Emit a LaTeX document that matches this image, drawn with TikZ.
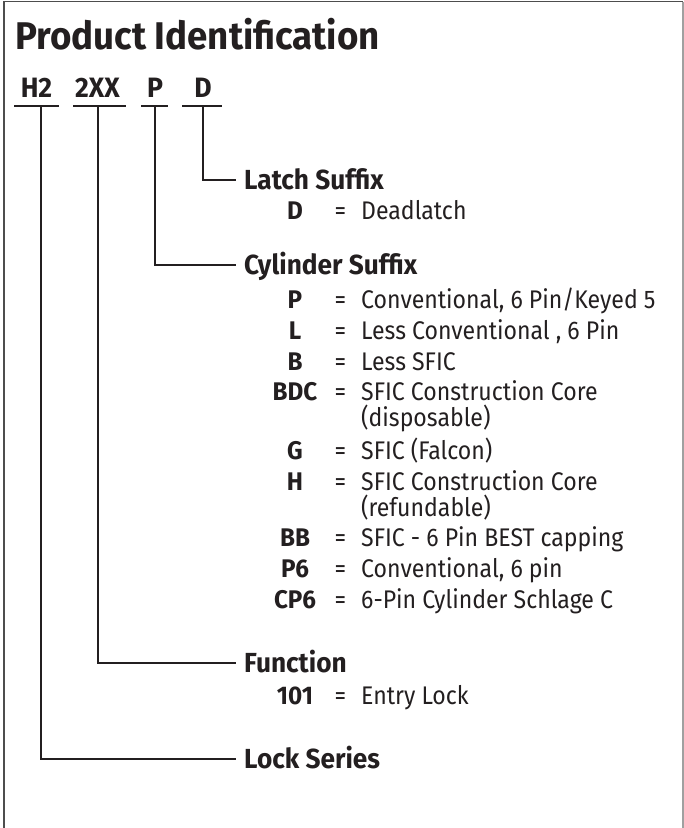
\documentclass[tikz,border=0pt]{standalone}
\usepackage{fontspec}
\setmainfont{Fira Sans}[FakeStretch=0.905, BoldFeatures={FakeStretch=0.95}]
\usetikzlibrary{positioning}
\definecolor{idInk}{HTML}{231F20}
\definecolor{idFrame}{HTML}{4D4D4D}
\definecolor{idFrameLt}{HTML}{A0A0A0}
\tikzset{
  ttl/.style={anchor=base west, inner sep=0pt, text=idInk,
              font=\bfseries\fontsize{38.6}{40}\selectfont},
  codeTag/.style={anchor=base, inner sep=0pt, text=idInk,
                  font=\bfseries\fontsize{28}{30}\selectfont},
  hdr/.style={anchor=west, inner xsep=8pt, inner ysep=0pt, text height=19pt,
              text depth=0pt, text=idInk, font=\bfseries\fontsize{27.6}{30}\selectfont},
  itemCode/.style={anchor=base, inner sep=0pt, text=idInk,
                   font=\bfseries\fontsize{25.5}{30}\selectfont},
  itemEq/.style={anchor=base, inner sep=0pt, text=idInk,
                 font=\fontsize{25.5}{30}\selectfont},
  itemDesc/.style={anchor=base west, inner sep=0pt, text=idInk,
                   font=\fontsize{25.5}{26}\selectfont},
  conn/.style={line width=2pt, idInk},
}
% one line of a code table: baseline y, code, description
\newcommand{\codeline}[3]{%
  \node[itemCode] (k-#2) at (295,#1) {#2};
  \node[itemEq] (e-#2) at (340.5,#1) {=};
  \node[itemDesc] (d-#2) at (361,#1) {#3};
}
% same, description on two lines
\newcommand{\codelinetwo}[4]{%
  \node[itemCode] (k-#2) at (295,#1) {#2};
  \node[itemEq] (e-#2) at (340.5,#1) {=};
  \node[itemDesc] (d-#2) at (361,#1) {\vtop{\hbox{#3}\hbox{#4}}};
}

\begin{document}
\begin{tikzpicture}[x=1pt, y=-1pt]
  \useasboundingbox (0,0) rectangle (684,828);
  % frame, open at the bottom
  \draw[idFrame, line width=1.6pt] (4,828) -- (4,1.5) -- (683,1.5);
  \draw[idFrameLt, line width=1.4pt] (683,1.5) -- (683,828);

  \node[ttl] (title) at (15,49.3) {Product Identification};

  % the code, letter groups underlined
  \node[codeTag] (cH) at (36.5,97.7) {H2};
  \node[codeTag] (cF) at (97.5,97.7) {2XX};
  \node[codeTag] (cP) at (155,97.7) {P};
  \node[codeTag] (cD) at (203,97.7) {D};
  \coordinate (uH) at (41,106);
  \coordinate (uF) at (98,106);
  \coordinate (uP) at (155,106);
  \coordinate (uD) at (203,106);
  \draw[conn] (14,106) -- (59,106);
  \draw[conn] (73,106) -- (126,106);
  \draw[conn] (141,106) -- (168,106);
  \draw[conn] (182,106) -- (222,106);

  % headings
  \node[hdr] (latch) at (236,180) {Latch Suffix};
  \node[hdr] (cyl) at (236,265) {Cylinder Suffix};
  \node[hdr] (func) at (236,663.3) {Function};
  \node[hdr] (series) at (236,759.3) {Lock Series};

  \draw[conn] (uD) |- (latch.west);
  \draw[conn] (uP) |- (cyl.west);
  \draw[conn] (uF) |- (func.west);
  \draw[conn] (uH) |- (series.west);

  % latch suffix
  \codeline{219.3}{D}{Deadlatch}
  % cylinder suffix
  \codeline{308.3}{P}{Conventional, 6 Pin/Keyed 5}
  \codeline{339.3}{L}{Less Conventional , 6 Pin}
  \codeline{370}{B}{Less SFIC}
  \codelinetwo{400.7}{BDC}{SFIC Construction Core}{(disposable)}
  \codeline{459.3}{G}{SFIC (Falcon)}
  \codelinetwo{490}{H}{SFIC Construction Core}{(refundable)}
  \codeline{546.7}{BB}{SFIC - 6 Pin BEST capping}
  \codeline{577.7}{P6}{Conventional, 6 pin}
  \codeline{608.3}{CP6}{6-Pin Cylinder Schlage C}
  % function
  \codeline{704.3}{101}{Entry Lock}
\end{tikzpicture}
\end{document}
